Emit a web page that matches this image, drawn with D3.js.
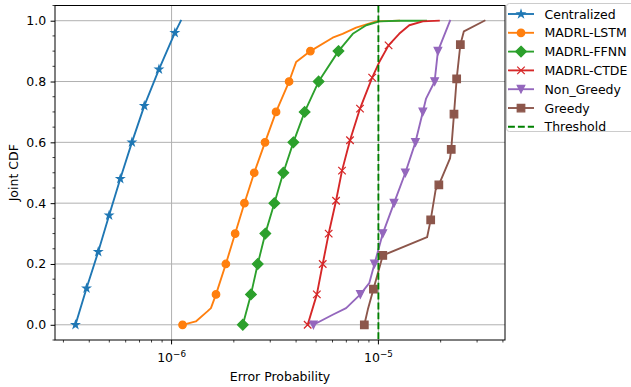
<!DOCTYPE html>
<html><head><meta charset="utf-8">
<script src="https://cdn.jsdelivr.net/npm/d3@7"></script>
<style>body{margin:0;background:#fff}svg{display:block}text{font-family:"DejaVu Sans",sans-serif}</style>
</head><body><svg id="c" width="631" height="387"></svg>
<script>
const categories = ["Centralized","MADRL-LSTM","MADRL-FFNN","MADRL-CTDE","Non_Greedy","Greedy"];
const colors = ["#1f77b4","#ff7f0e","#2ca02c","#d62728","#9467bd","#8c564b"];
const markerTypes = ["star","circle","diamond","x","tri","square"];

const centralizedX = [3.43e-7,3.88e-7,4.42e-7,4.99e-7,5.65e-7,6.43e-7,7.38e-7,8.69e-7,1.037e-6,1.109e-6];
const centralizedY = [0,0.12,0.24,0.36,0.48,0.60,0.72,0.84,0.96,1.0];
const centralizedMarks = [0,1,2,3,4,5,6,7,8];

const lstmX = [1.13e-6,1.31e-6,1.49e-6,1.55e-6,1.64e-6,1.83e-6,2.03e-6,2.25e-6,2.51e-6,2.83e-6,3.20e-6,3.70e-6,4.00e-6,4.69e-6,6.01e-6,6.71e-6,7.80e-6,9.75e-6,1.26e-5];
const lstmY = [0,0.011,0.044,0.055,0.1,0.2,0.3,0.4,0.5,0.6,0.7,0.8,0.864,0.9,0.944,0.957,0.977,0.998,1.0];
const lstmMarks = [0,4,5,6,7,8,9,10,11,13];

const ffnnX = [2.21e-6,2.42e-6,2.61e-6,2.84e-6,3.14e-6,3.47e-6,3.88e-6,4.40e-6,5.14e-6,6.41e-6,7.52e-6,8.73e-6,1.01e-5,1.26e-5,1.70e-5];
const ffnnY = [0,0.1,0.2,0.3,0.4,0.5,0.6,0.7,0.8,0.9,0.957,0.985,0.998,1.0,1.0];
const ffnnMarks = [0,1,2,3,4,5,6,7,8,9];

const ctdeX = [4.55e-6,5.04e-6,5.38e-6,5.75e-6,6.24e-6,6.67e-6,7.29e-6,8.15e-6,9.33e-6,1.01e-5,1.12e-5,1.26e-5,1.41e-5,1.64e-5,1.96e-5];
const ctdeY = [0,0.1,0.2,0.3,0.408,0.507,0.607,0.711,0.813,0.864,0.919,0.957,0.985,0.998,1.0];
const ctdeMarks = [0,1,2,3,4,5,6,7,8,10];

const nonGreedyX = [4.85e-6,6.01e-6,6.98e-6,8.18e-6,9.03e-6,9.57e-6,1.05e-5,1.19e-5,1.35e-5,1.51e-5,1.64e-5,1.70e-5,1.87e-5,1.94e-5,2.22e-5];
const nonGreedyY = [0,0.033,0.055,0.1,0.137,0.2,0.3,0.4,0.5,0.6,0.7,0.744,0.8,0.9,1.0];
const nonGreedyMarks = [0,3,5,6,7,8,9,10,12,13];

const greedyX = [8.55e-6,8.89e-6,9.46e-6,1.05e-5,1.72e-5,1.79e-5,1.89e-5,1.96e-5,2.22e-5,2.25e-5,2.32e-5,2.39e-5,2.49e-5,2.59e-5,3.26e-5];
const greedyY = [0,0.05,0.117,0.228,0.288,0.345,0.443,0.46,0.547,0.577,0.693,0.809,0.921,0.965,1.0];
const greedyMarks = [0,2,3,5,7,9,10,11,12];

const threshold = 1e-5;
const yTicks = [0,0.2,0.4,0.6,0.8,1.0];
const xTickExps = [-6,-5];
const xLabel = "Error Probability";
const yLabel = "Joint CDF";

const seriesX = [centralizedX,lstmX,ffnnX,ctdeX,nonGreedyX,greedyX];
const seriesY = [centralizedY,lstmY,ffnnY,ctdeY,nonGreedyY,greedyY];
const seriesM = [centralizedMarks,lstmMarks,ffnnMarks,ctdeMarks,nonGreedyMarks,greedyMarks];

const L=55,R=505,T=5.5,B=340;
const allX = seriesX.flat();
const lmin = Math.log10(d3.min(allX)), lmax = Math.log10(d3.max(allX));
const pad = (lmax-lmin)*0.05;
const x = d3.scaleLog().domain([10**(lmin-pad),10**(lmax+pad)]).range([L,R]);
const y = d3.scaleLinear().domain([-0.05,1.05]).range([B,T]);

const svg = d3.select("#c");
const fs = 12.5;

// grid
const g = svg.append("g");
g.selectAll(".gy").data(yTicks).enter().append("line")
 .attr("x1",L).attr("x2",R).attr("y1",d=>y(d)).attr("y2",d=>y(d))
 .attr("stroke","#b0b0b0").attr("stroke-width",1);
g.selectAll(".gx").data(xTickExps).enter().append("line")
 .attr("y1",T).attr("y2",B).attr("x1",d=>x(10**d)).attr("x2",d=>x(10**d))
 .attr("stroke","#b0b0b0").attr("stroke-width",1);

function markerPath(type, s){
  const r = s/2;
  if(type==="circle") return d3.symbol(d3.symbolCircle, Math.PI*r*r)();
  if(type==="square") return `M${-r},${-r}H${r}V${r}H${-r}Z`;
  if(type==="diamond"){const q=r*Math.SQRT2;return `M0,${-q}L${q},0L0,${q}L${-q},0Z`;}
  if(type==="tri") return `M0,${r}L${-r},${-r}L${r},${-r}Z`;
  if(type==="x") return `M${-r},${-r}L${r},${r}M${-r},${r}L${r},${-r}`;
  if(type==="star"){
    let p=[];for(let i=0;i<10;i++){const a=-Math.PI/2+i*Math.PI/5;const rr=i%2===0?r:r*0.381966;p.push([rr*Math.cos(a),rr*Math.sin(a)]);}
    return "M"+p.map(d=>d.join(",")).join("L")+"Z";
  }
}

const line = d3.line().x(d=>x(d[0])).y(d=>y(d[1])).curve(d3.curveLinear);
const plot = svg.append("g");
const ms = 7.5;
categories.forEach((c,i)=>{
  const pts = seriesX[i].map((v,j)=>[v,seriesY[i][j]]);
  plot.append("path").attr("d",line(pts)).attr("fill","none")
    .attr("stroke",colors[i]).attr("stroke-width",1.875).attr("stroke-linejoin","round").attr("stroke-linecap","square");
  const mp = seriesM[i].map(k=>pts[k]);
  plot.selectAll(null).data(mp).enter().append("path")
    .attr("transform",d=>`translate(${x(d[0])},${y(d[1])})`)
    .attr("d",markerPath(markerTypes[i],ms))
    .attr("fill",markerTypes[i]==="x"?"none":colors[i])
    .attr("stroke",colors[i]).attr("stroke-width",1.25).attr("stroke-linejoin","miter");
});
// threshold
plot.append("line").attr("x1",x(threshold)).attr("x2",x(threshold)).attr("y1",T).attr("y2",B)
  .attr("stroke","#008000").attr("stroke-width",1.875).attr("stroke-dasharray","6.9,3");

// axes frame
svg.append("rect").attr("x",L).attr("y",T).attr("width",R-L).attr("height",B-T)
  .attr("fill","none").attr("stroke","#000").attr("stroke-width",1);

// y axis ticks
const yAxis = d3.axisLeft(y).tickValues(yTicks).tickFormat(d3.format(".1f")).tickSize(4.4).tickPadding(4.4);
const ya = svg.append("g").attr("transform",`translate(${L},0)`).call(yAxis);
ya.select(".domain").remove();
ya.selectAll("text").attr("font-size",fs).attr("fill","#000").style("font-family","DejaVu Sans");
const yMinor = d3.range(-0.05,1.0501,0.05).filter(v=>Math.abs(Math.round(v*5)-v*5)>1e-6);
svg.append("g").selectAll("line").data(yMinor).enter().append("line")
 .attr("x1",L-2.5).attr("x2",L).attr("y1",d=>y(d)).attr("y2",d=>y(d)).attr("stroke","#000").attr("stroke-width",0.75);

// x axis ticks
const xa = svg.append("g").attr("transform",`translate(0,${B})`);
const [d0,d1] = x.domain();
const minorX = [];
for(let e=-7;e<=-4;e++) for(let m=2;m<=9;m++){const v=m*10**e; if(v>=d0&&v<=d1) minorX.push(v);}
xa.selectAll(".mn").data(minorX).enter().append("line").attr("x1",d=>x(d)).attr("x2",d=>x(d)).attr("y1",0).attr("y2",2.5).attr("stroke","#000").attr("stroke-width",0.75);
xa.selectAll(".mj").data(xTickExps).enter().append("line").attr("x1",d=>x(10**d)).attr("x2",d=>x(10**d)).attr("y1",0).attr("y2",4.4).attr("stroke","#000").attr("stroke-width",1);
const xt = xa.selectAll(".lb").data(xTickExps).enter().append("text")
 .attr("x",d=>x(10**d)).attr("y",22).attr("text-anchor","middle").attr("font-size",fs).attr("fill","#000");
xt.append("tspan").text("10");
xt.append("tspan").attr("dy",-5).attr("font-size",fs*0.7).text(d=>"\u2212"+Math.abs(d));

// labels
svg.append("text").attr("x",(L+R)/2).attr("y",381).attr("text-anchor","middle").attr("font-size",fs).text(xLabel);
svg.append("text").attr("transform",`translate(18,${(T+B)/2}) rotate(-90)`).attr("text-anchor","middle").attr("font-size",fs).text(yLabel);

// legend
const lg = svg.append("g");
lg.append("rect").attr("x",506.5).attr("y",3.5).attr("width",135).attr("height",128).attr("rx",3)
  .attr("fill","#fff").attr("fill-opacity",0.8).attr("stroke","#ccc").attr("stroke-width",1);
const names = categories.concat(["Threshold"]);
names.forEach((n,i)=>{
  const cy = 14 + i*18.8;
  const col = i<6?colors[i]:"#008000";
  lg.append("line").attr("x1",508).attr("x2",534).attr("y1",cy).attr("y2",cy).attr("stroke",col).attr("stroke-width",1.875)
    .attr("stroke-dasharray",i<6?null:"6.9,3");
  if(i<6) lg.append("path").attr("transform",`translate(521,${cy})`).attr("d",markerPath(markerTypes[i],ms))
    .attr("fill",markerTypes[i]==="x"?"none":col).attr("stroke",col).attr("stroke-width",1.25);
  lg.append("text").attr("x",544.5).attr("y",cy).attr("dy","0.36em").attr("font-size",fs).text(n);
});
</script></body></html>
